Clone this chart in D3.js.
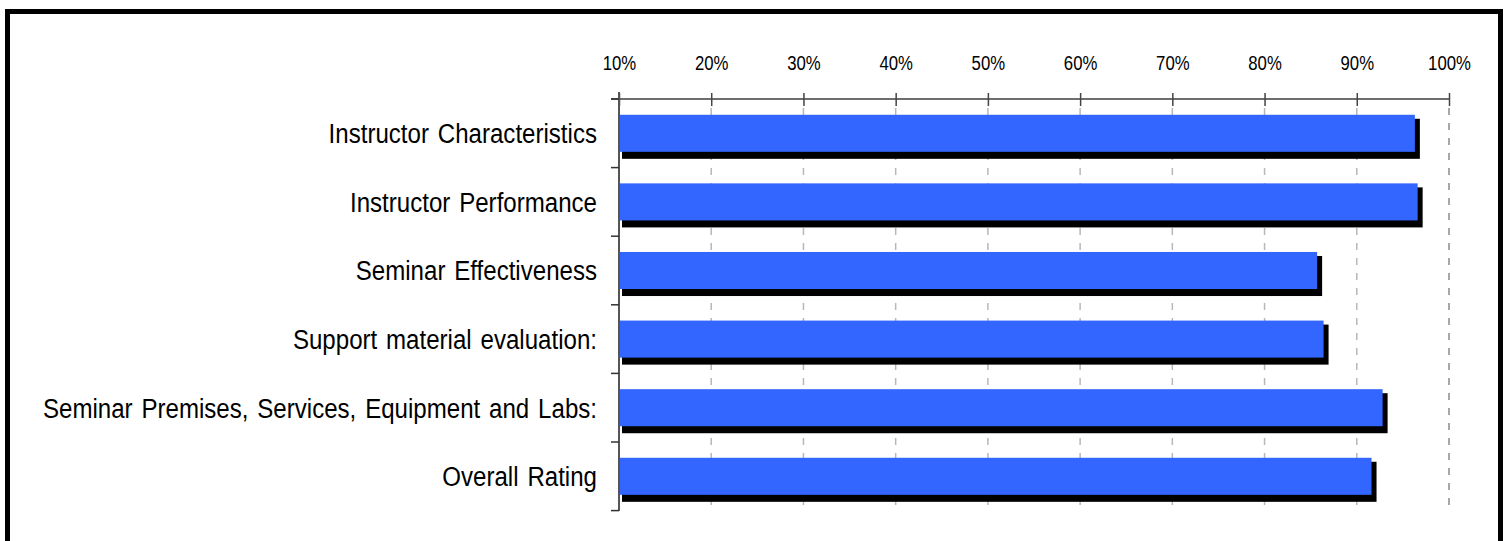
<!DOCTYPE html>
<html>
<head>
<meta charset="utf-8">
<script src="https://cdn.jsdelivr.net/npm/d3@7"></script>
<style>
  body { margin: 0; background: #fff; }
  text { font-family: "Liberation Sans Narrow", "Arial Narrow", "Liberation Sans", Arial, sans-serif; fill: #000; }
</style>
</head>
<body>
<div id="chart"></div>
<script>
// categories and values (percent)
var categories = [
  "Instructor Characteristics",
  "Instructor Performance",
  "Seminar Effectiveness",
  "Support material evaluation:",
  "Seminar Premises, Services, Equipment and Labs:",
  "Overall Rating"
];
var values = [96.3, 96.6, 85.7, 86.4, 92.8, 91.6];
var tickValues = [10, 20, 30, 40, 50, 60, 70, 80, 90, 100];

var W = 1507, H = 541;
var narrow = 0.86; // the original font is a condensed Arial, squeeze the wide fallback

var svg = d3.select("#chart").append("svg")
    .attr("width", W)
    .attr("height", H);

// frame (bottom edge falls outside the picture)
svg.append("rect")
    .attr("x", 7.5).attr("y", 11.5)
    .attr("width", 1493).attr("height", 600)
    .attr("fill", "none")
    .attr("stroke", "#000")
    .attr("stroke-width", 5);

var x = d3.scaleLinear()
    .domain([10, 100])
    .range([619, 1449]);

var y = d3.scaleBand()
    .domain(categories)
    .range([99, 510.6])
    .paddingInner(0.46)
    .paddingOuter(0.23);

// dashed gridlines
svg.append("g")
  .selectAll("line")
  .data(tickValues.slice(1))
  .enter()
  .append("line")
    .attr("x1", function (d) { return x(d); })
    .attr("x2", function (d) { return x(d); })
    .attr("y1", 100)
    .attr("y2", 508)
    .attr("stroke", function (d) { return d === 100 ? "#8a8a8a" : "#b8b8b8"; })
    .attr("stroke-width", 1.5)
    .attr("stroke-dasharray", "7,8")
    .attr("stroke-dashoffset", -8);

// top axis
var axisTop = d3.axisTop(x)
    .tickValues(tickValues)
    .tickFormat(function (d) { return d + "%"; })
    .tickSize(6)
    .tickPadding(23);

var gx = svg.append("g")
    .attr("transform", "translate(0,99)")
    .call(axisTop);
gx.select(".domain")
    .attr("d", "M611,0H" + x(100))
    .attr("stroke", "#6e6e6e")
    .attr("stroke-width", 2);
gx.selectAll(".tick line")
    .attr("y1", 7)
    .attr("stroke", "#444")
    .attr("stroke-width", 1.5);
gx.selectAll(".tick text")
    .style("font-size", "19.5px")
    .attr("fill", "#111")
    .attr("transform", "scale(" + narrow + ",1)");

// shadows
svg.append("g")
  .selectAll("rect")
  .data(categories)
  .enter()
  .append("rect")
    .attr("x", x(10) + 3)
    .attr("y", function (d) { return y(d) + 4; })
    .attr("width", function (d, i) { return x(values[i]) - x(10) + 2; })
    .attr("height", y.bandwidth() + 3)
    .attr("fill", "#000");

// bars
svg.append("g")
  .selectAll("rect")
  .data(categories)
  .enter()
  .append("rect")
    .attr("x", x(10))
    .attr("y", function (d) { return y(d); })
    .attr("width", function (d, i) { return x(values[i]) - x(10); })
    .attr("height", y.bandwidth())
    .attr("fill", "#3366ff");

// left axis
var gy = svg.append("g");
gy.append("line")
    .attr("x1", 619).attr("x2", 619)
    .attr("y1", 92).attr("y2", 511)
    .attr("stroke", "#555")
    .attr("stroke-width", 2);
gy.selectAll(".ctick")
  .data(d3.range(categories.length + 1))
  .enter()
  .append("line")
    .attr("class", "ctick")
    .attr("x1", 611).attr("x2", 619)
    .attr("y1", function (i) { return y.range()[0] + i * y.step(); })
    .attr("y2", function (i) { return y.range()[0] + i * y.step(); })
    .attr("stroke", "#333")
    .attr("stroke-width", 1.5);
gy.selectAll(".clabel")
  .data(categories)
  .enter()
  .append("text")
    .attr("class", "clabel")
    .attr("transform", function (d) {
      return "translate(597," + (y(d) + y.bandwidth() / 2) + ") scale(" + narrow + ",1)";
    })
    .attr("dy", "0.35em")
    .attr("text-anchor", "end")
    .style("font-size", "28px")
    .style("word-spacing", "2.5px")
    .text(function (d) { return d; });
</script>
</body>
</html>
